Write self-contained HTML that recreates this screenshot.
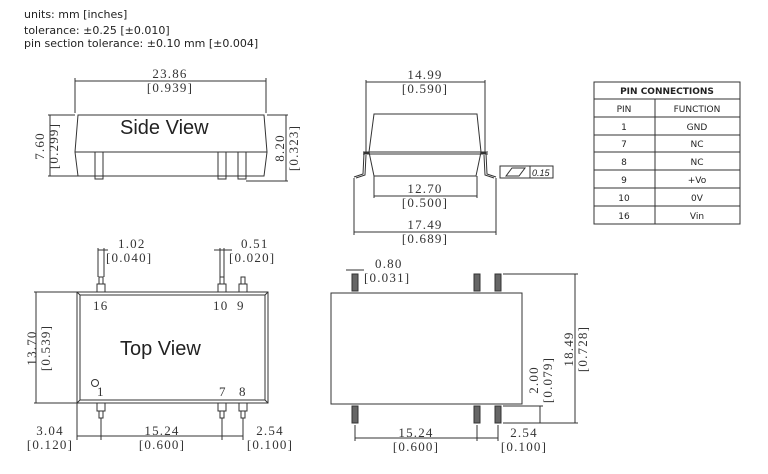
<!DOCTYPE html>
<html><head><meta charset="utf-8"><style>
body{margin:0;background:#fff;width:768px;height:474px;overflow:hidden}
svg{display:block}
.d{font-family:"Liberation Serif",serif;font-size:13px;fill:#333;letter-spacing:1.2px}
.s{font-family:"DejaVu Sans",sans-serif;font-size:11px;fill:#222}
.b{font-family:"Liberation Sans",sans-serif;font-size:20px;fill:#222}
.t{font-family:"DejaVu Sans",sans-serif;font-size:9px;fill:#222;text-anchor:middle}
line,rect,path,polyline,circle{stroke:#333;fill:none;stroke-width:1}
.pad{fill:#666}
</style></head><body>
<svg width="768" height="474" viewBox="0 0 768 474">
<text class="s" x="24" y="18">units: mm [inches]</text>
<text class="s" x="24" y="34">tolerance: ±0.25 [±0.010]</text>
<text class="s" x="24" y="47">pin section tolerance: ±0.10 mm [±0.004]</text>

<!-- Side view -->
<line x1="75" y1="81" x2="266" y2="81"/><line x1="75" y1="78" x2="75" y2="113"/><line x1="266" y1="78" x2="266" y2="113"/>
<text class="d" x="170" y="78" text-anchor="middle">23.86</text><text class="d" x="170" y="92" text-anchor="middle">[0.939]</text>
<path d="M78 115 L264 115 L267 152 L264 176 L78 176 L75 152 Z"/>
<line x1="75" y1="152" x2="267" y2="152"/>
<rect x="95" y="152" width="8" height="27"/><rect x="218" y="152" width="8" height="27"/><rect x="238" y="152" width="8" height="27"/>
<line x1="48" y1="115" x2="75" y2="115"/><line x1="48" y1="176" x2="78" y2="176"/><line x1="50" y1="115" x2="50" y2="176"/>
<text class="d" transform="translate(44,146) rotate(-90)" text-anchor="middle">7.60</text>
<text class="d" transform="translate(58,146) rotate(-90)" text-anchor="middle">[0.299]</text>
<line x1="267" y1="115" x2="288" y2="115"/><line x1="246" y1="181" x2="288" y2="181"/><line x1="286" y1="115" x2="286" y2="181"/>
<text class="d" transform="translate(284,148) rotate(-90)" text-anchor="middle">8.20</text>
<text class="d" transform="translate(298,148) rotate(-90)" text-anchor="middle">[0.323]</text>
<text class="b" x="120" y="134">Side View</text>

<!-- Front view -->
<line x1="366" y1="82" x2="485" y2="82"/><line x1="366" y1="80" x2="366" y2="153"/><line x1="485" y1="80" x2="485" y2="153"/>
<text class="d" x="425" y="79" text-anchor="middle">14.99</text><text class="d" x="425" y="93" text-anchor="middle">[0.590]</text>
<path d="M374 114 L477 114 L481 152 L476 176 L374 176 L369 152 Z"/>
<line x1="363" y1="152" x2="488" y2="152"/><line x1="363" y1="154" x2="488" y2="154"/>
<path d="M369 153 L364 153 L363 174 L354 177"/><path d="M366 155 L365 175 L356 178"/>
<path d="M481 153 L486 153 L487 174 L496 177"/><path d="M484 155 L485 175 L494 178"/>
<rect x="500" y="166" width="30" height="12"/><rect x="530" y="166" width="23" height="12"/>
<path d="M506 176 L512 168 L525 168 L519 176 Z"/>
<text x="532" y="176" style="font-family:'Liberation Sans',sans-serif;font-size:9px;font-style:italic;fill:#222">0.15</text>
<line x1="374" y1="176" x2="374" y2="198"/><line x1="477" y1="176" x2="477" y2="198"/><line x1="374" y1="196" x2="477" y2="196"/>
<text class="d" x="425" y="193" text-anchor="middle">12.70</text><text class="d" x="425" y="207" text-anchor="middle">[0.500]</text>
<line x1="354" y1="178" x2="354" y2="235"/><line x1="496" y1="178" x2="496" y2="235"/><line x1="354" y1="232" x2="496" y2="232"/>
<text class="d" x="425" y="229" text-anchor="middle">17.49</text><text class="d" x="425" y="243" text-anchor="middle">[0.689]</text>

<!-- Table -->
<rect x="594" y="82" width="146" height="142" stroke="#888"/>
<g stroke="#888"><line x1="594" y1="99" x2="740" y2="99"/><line x1="594" y1="117" x2="740" y2="117"/><line x1="594" y1="135" x2="740" y2="135"/><line x1="594" y1="152" x2="740" y2="152"/><line x1="594" y1="170" x2="740" y2="170"/><line x1="594" y1="188" x2="740" y2="188"/><line x1="594" y1="206" x2="740" y2="206"/><line x1="655" y1="99" x2="655" y2="224"/></g>
<text class="t" x="667" y="94" style="font-weight:bold">PIN CONNECTIONS</text>
<text class="t" x="624" y="112">PIN</text><text class="t" x="697" y="112">FUNCTION</text>
<text class="t" x="624" y="130">1</text><text class="t" x="697" y="130">GND</text>
<text class="t" x="624" y="147">7</text><text class="t" x="697" y="147">NC</text>
<text class="t" x="624" y="165">8</text><text class="t" x="697" y="165">NC</text>
<text class="t" x="624" y="183">9</text><text class="t" x="697" y="183">+Vo</text>
<text class="t" x="624" y="201">10</text><text class="t" x="697" y="201">0V</text>
<text class="t" x="624" y="219">16</text><text class="t" x="697" y="219">Vin</text>

<!-- Top view -->
<rect x="77" y="292" width="191" height="111" stroke-width="1.3"/><rect x="80" y="295" width="185" height="105"/>
<line x1="77" y1="292" x2="80" y2="295"/><line x1="268" y1="292" x2="265" y2="295"/><line x1="77" y1="403" x2="80" y2="400"/><line x1="268" y1="403" x2="265" y2="400"/>
<rect x="97" y="284" width="8" height="8"/><rect x="99" y="277" width="4" height="7"/>
<rect x="218" y="284" width="8" height="8"/><rect x="220" y="277" width="4" height="7"/>
<rect x="239" y="284" width="8" height="8"/><rect x="241" y="277" width="4" height="7"/>
<line x1="98" y1="248" x2="98" y2="277"/><line x1="104" y1="248" x2="104" y2="277"/><line x1="98" y1="250" x2="108" y2="250"/>
<line x1="220" y1="248" x2="220" y2="277"/><line x1="224" y1="248" x2="224" y2="277"/><line x1="214" y1="250" x2="232" y2="250"/>
<text class="d" x="118" y="248">1.02</text><text class="d" x="106" y="262">[0.040]</text>
<text class="d" x="241" y="248">0.51</text><text class="d" x="229" y="262">[0.020]</text>
<text class="d" x="93" y="310">16</text><text class="d" x="213" y="310">10</text><text class="d" x="237" y="310">9</text>
<circle cx="95" cy="383" r="3.5"/><text class="d" x="97" y="396">1</text><text class="d" x="219" y="396">7</text><text class="d" x="239" y="396">8</text>
<rect x="97" y="403" width="8" height="8"/><rect x="99" y="411" width="4" height="7"/>
<rect x="218" y="403" width="8" height="8"/><rect x="220" y="411" width="4" height="7"/>
<rect x="239" y="403" width="8" height="8"/><rect x="241" y="411" width="4" height="7"/>
<line x1="101" y1="418" x2="101" y2="440"/><line x1="222" y1="418" x2="222" y2="440"/><line x1="243" y1="418" x2="243" y2="440"/>
<line x1="77" y1="403" x2="77" y2="440"/><line x1="77" y1="436" x2="243" y2="436"/>
<text class="b" x="120" y="355">Top View</text>
<line x1="34" y1="292" x2="77" y2="292"/><line x1="34" y1="403" x2="77" y2="403"/><line x1="36" y1="292" x2="36" y2="403"/>
<text class="d" transform="translate(36,348) rotate(-90)" text-anchor="middle">13.70</text>
<text class="d" transform="translate(50,348) rotate(-90)" text-anchor="middle">[0.539]</text>
<text class="d" x="50" y="435" text-anchor="middle">3.04</text><text class="d" x="50" y="449" text-anchor="middle">[0.120]</text>
<text class="d" x="162" y="435" text-anchor="middle">15.24</text><text class="d" x="162" y="449" text-anchor="middle">[0.600]</text>
<text class="d" x="270" y="435" text-anchor="middle">2.54</text><text class="d" x="270" y="449" text-anchor="middle">[0.100]</text>

<!-- Bottom view -->
<rect x="331" y="293" width="191" height="111" stroke="#777" stroke-width="1.5"/>
<rect class="pad" x="352" y="274" width="6" height="17"/><rect class="pad" x="474" y="274" width="6" height="17"/><rect class="pad" x="495" y="274" width="6" height="17"/>
<rect class="pad" x="352" y="406" width="6" height="17"/><rect class="pad" x="474" y="406" width="6" height="17"/><rect class="pad" x="495" y="406" width="6" height="17"/>
<line x1="346" y1="270" x2="364" y2="270"/>
<text class="d" x="375" y="268">0.80</text><text class="d" x="364" y="282">[0.031]</text>
<line x1="503" y1="274" x2="578" y2="274"/><line x1="503" y1="423" x2="578" y2="423"/><line x1="575" y1="274" x2="575" y2="423"/>
<text class="d" transform="translate(573,349) rotate(-90)" text-anchor="middle">18.49</text>
<text class="d" transform="translate(587,349) rotate(-90)" text-anchor="middle">[0.728]</text>
<line x1="503" y1="406" x2="543" y2="406"/><line x1="540" y1="406" x2="540" y2="423"/>
<text class="d" transform="translate(538,380) rotate(-90)" text-anchor="middle">2.00</text>
<text class="d" transform="translate(552,380) rotate(-90)" text-anchor="middle">[0.079]</text>
<line x1="355" y1="425" x2="355" y2="441"/><line x1="477" y1="425" x2="477" y2="441"/><line x1="498" y1="425" x2="498" y2="441"/>
<line x1="355" y1="438" x2="498" y2="438"/>
<text class="d" x="416" y="437" text-anchor="middle">15.24</text><text class="d" x="416" y="451" text-anchor="middle">[0.600]</text>
<text class="d" x="524" y="437" text-anchor="middle">2.54</text><text class="d" x="524" y="451" text-anchor="middle">[0.100]</text>
</svg>
</body></html>
